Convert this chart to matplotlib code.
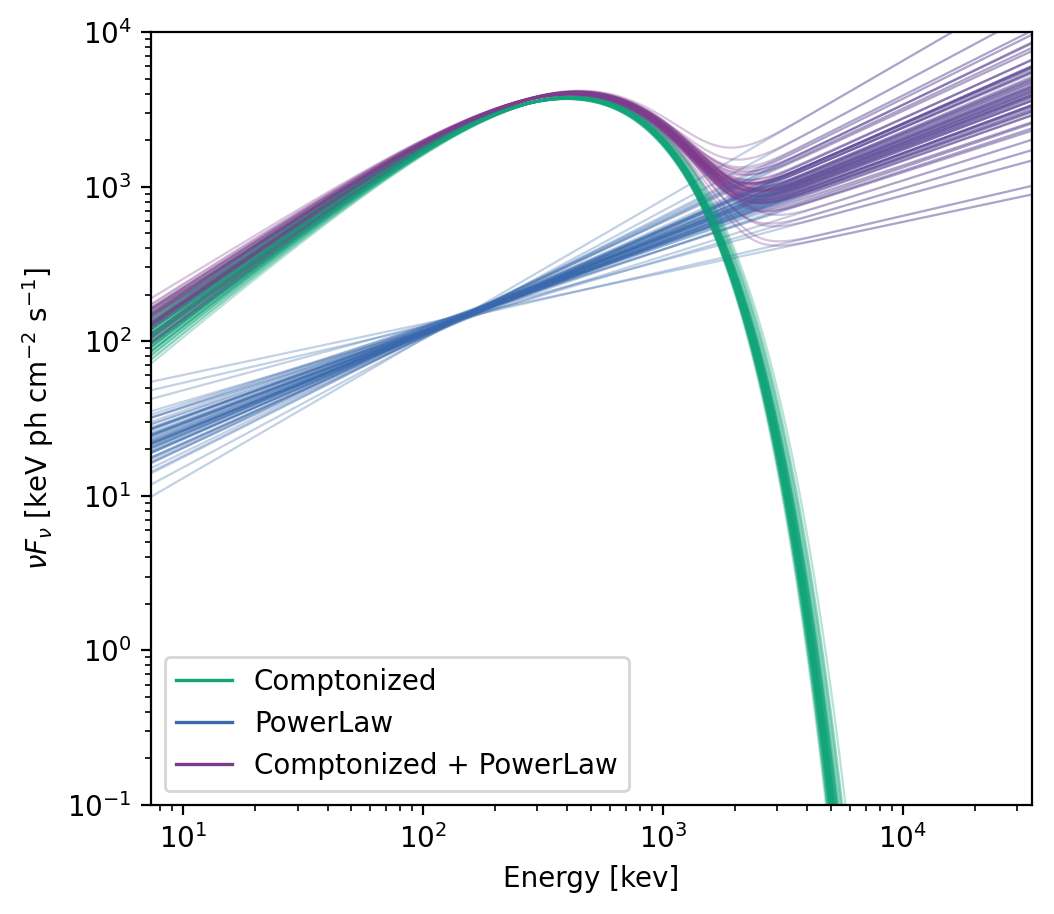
import numpy as np
import matplotlib
matplotlib.use("Agg")
import matplotlib.pyplot as plt
from matplotlib.lines import Line2D

# posterior samples (one entry per drawn curve)
# Comptonized: peak energy [keV], peak nuFnu, index s = alpha + 2
comp_epeak = [412, 405, 418, 399, 421, 408, 415, 402, 410, 425, 397, 413,
              407, 419, 404, 411, 416, 400, 409, 422, 406, 414, 398, 417,
              403, 410, 420, 401, 412, 408, 395, 415, 405, 418, 411, 407,
              423, 402, 413, 409, 404, 416, 400, 411, 419, 406, 414, 397,
              410, 421, 403, 408, 417, 405, 412, 399, 415, 409, 420, 406]
comp_fpeak = [3760, 3720, 3790, 3700, 3810, 3740, 3770, 3730, 3750, 3820, 3690, 3780,
              3745, 3800, 3715, 3760, 3785, 3705, 3740, 3815, 3725, 3770, 3695, 3790,
              3730, 3755, 3805, 3710, 3765, 3745, 3685, 3780, 3720, 3795, 3750, 3735,
              3825, 3715, 3770, 3745, 3725, 3785, 3700, 3760, 3800, 3730, 3775, 3690,
              3750, 3810, 3720, 3740, 3790, 3725, 3765, 3705, 3780, 3745, 3805, 3730]
comp_index = [1.18, 1.12, 1.24, 1.08, 1.20, 1.16, 1.28, 1.14, 1.22, 1.10, 1.18, 1.26,
              1.16, 1.04, 1.20, 1.14, 1.24, 1.18, 1.10, 1.22, 1.16, 1.30, 1.12, 1.20,
              1.14, 1.18, 1.26, 1.08, 1.22, 1.16, 1.12, 1.20, 1.18, 1.24, 1.14, 1.06,
              1.22, 1.16, 1.28, 1.12, 1.18, 1.20, 1.10, 1.24, 1.16, 1.14, 1.22, 1.18,
              1.26, 1.12, 1.20, 1.16, 1.08, 1.22, 1.18, 1.14, 1.24, 1.10, 1.20, 1.16]

# PowerLaw: nuFnu at the 157 keV pivot and nuFnu slope (index + 2)
pl_pivot = 157.0
pl_fpivot = [151, 147, 155, 149, 144, 153, 150, 158, 146, 152, 148, 156,
             150, 143, 154, 149, 152, 147, 157, 151, 145, 153, 148, 150,
             155, 146, 152, 149, 159, 150, 147, 154, 151, 144, 153, 148,
             150, 156, 146, 152, 149, 155, 147, 151, 142, 153, 150, 148,
             154, 149, 152, 145, 157, 150, 147, 153, 151, 146, 155, 149]
pl_slope = [0.62, 0.58, 0.67, 0.55, 0.71, 0.60, 0.64, 0.52, 0.69, 0.61, 0.57, 0.74,
            0.63, 0.49, 0.66, 0.59, 0.78, 0.62, 0.54, 0.68, 0.36, 0.60, 0.65, 0.56,
            0.72, 0.61, 0.51, 0.67, 0.58, 0.83, 0.63, 0.57, 0.70, 0.46, 0.64, 0.60,
            0.75, 0.55, 0.66, 0.62, 0.59, 0.90, 0.53, 0.68, 0.61, 0.42, 0.65, 0.58,
            0.73, 0.63, 0.56, 0.69, 0.60, 0.33, 0.64, 0.57, 0.77, 0.62, 0.50, 0.67]

labels = ["Comptonized", "PowerLaw", "Comptonized + PowerLaw"]
colors = ["#11A579", "#3969AC", "#7F3C8D"]

energy = np.geomspace(7.35, 34500, 400)


def comptonized(E, ep, fp, s):
    x = E / ep
    return fp * x**s * np.exp(s * (1.0 - x))


def powerlaw(E, f0, p):
    return f0 * (E / pl_pivot) ** p


fig = plt.figure(figsize=(5.27, 4.57), dpi=200)
ax = fig.add_axes([0.1433, 0.1193, 0.8357, 0.8457])

for ep, fp, s, f0, p in zip(comp_epeak, comp_fpeak, comp_index, pl_fpivot, pl_slope):
    c = comptonized(energy, ep, fp, s)
    pl = powerlaw(energy, f0, p)
    ax.plot(energy, c, color=colors[0], lw=0.8, alpha=0.3)
    ax.plot(energy, pl, color=colors[1], lw=0.8, alpha=0.3)
    ax.plot(energy, c + pl, color=colors[2], lw=0.8, alpha=0.3)

ax.set_xscale("log")
ax.set_yscale("log")
ax.set_xlim(7.35, 34500)
ax.set_ylim(0.1, 1e4)
ax.set_xlabel("Energy [kev]")
ax.set_ylabel(r"$\nu F_{\nu}$ [keV ph cm$^{-2}$ s$^{-1}$]")

handles = [Line2D([], [], color=col, lw=1.2) for col in colors]
ax.legend(handles, labels, loc="lower left")

fig.savefig("out.png", dpi=200)
